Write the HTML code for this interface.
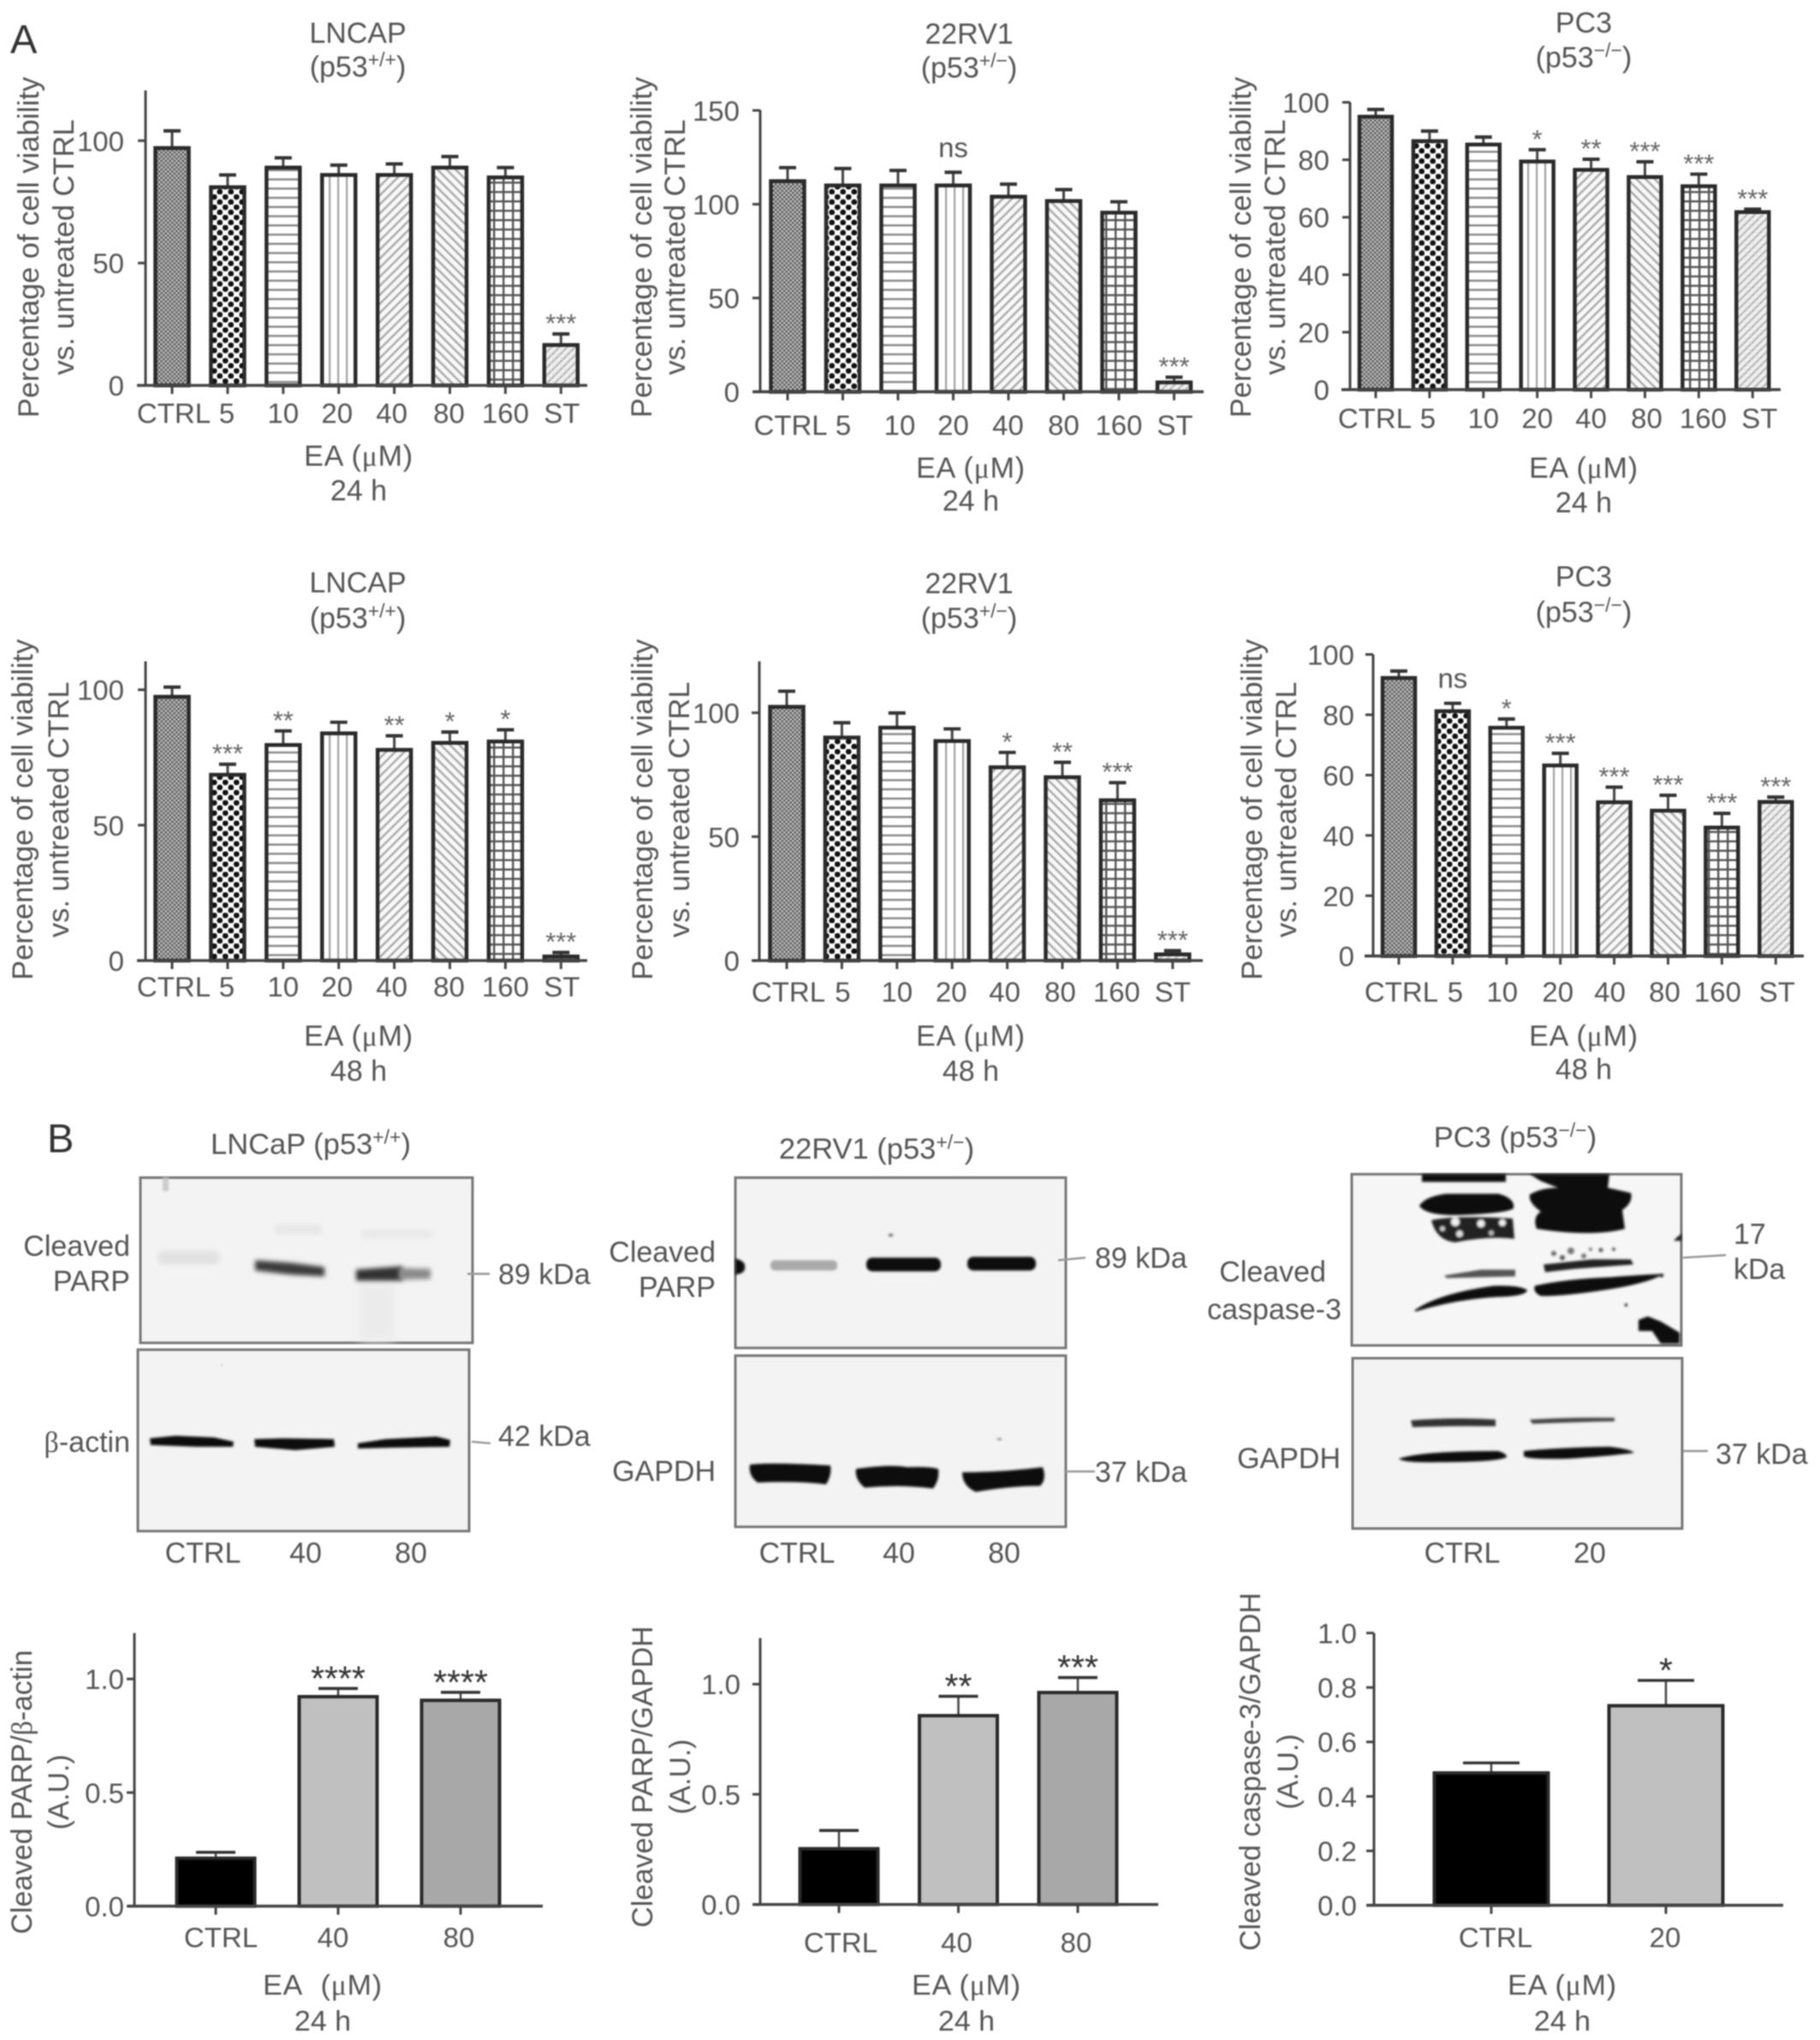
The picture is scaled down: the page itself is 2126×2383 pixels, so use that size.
<!DOCTYPE html>
<html lang="en">
<head>
<meta charset="utf-8">
<title>EA cell viability and western blots</title>
<style>
html,body{margin:0;padding:0;background:#fff;}
svg{display:block;filter:blur(0.7px);}
text{font-family:"Liberation Sans",Arial,sans-serif;fill:#555;font-size:33px;}
.serif{font-family:"Liberation Serif",serif;}
.ytitle{font-size:34.6px;}
.bt{font-size:34px;}
.blt{font-size:34.5px;}
.ea{font-size:34px;letter-spacing:.8px;}
.panel{font-size:47px;fill:#333;}
.sup{font-size:23px;}
.box{fill:#f3f3f3;stroke:#777;stroke-width:3;}
.leader{stroke:#999;stroke-width:2.5;fill:none;}
</style>
</head>
<body>
<svg id="figure" xmlns="http://www.w3.org/2000/svg" width="2126" height="2383" viewBox="0 0 2126 2383">
<defs>
<pattern id="pat-ctrl" width="5" height="5" patternUnits="userSpaceOnUse"><rect width="5" height="5" fill="#c4c4c4"/><rect width="2.5" height="2.5" fill="#5a5a5a"/><rect x="2.5" y="2.5" width="2.5" height="2.5" fill="#5a5a5a"/></pattern>
<pattern id="pat-5" width="13" height="12" patternUnits="userSpaceOnUse"><rect width="13" height="12" fill="#fff"/><circle cx="3.25" cy="3" r="3.4" fill="#111"/><circle cx="9.75" cy="9" r="3.4" fill="#111"/></pattern>
<pattern id="pat-10" width="10" height="10.8" patternUnits="userSpaceOnUse"><rect width="10" height="10.8" fill="#fff"/><rect y="4" width="10" height="2.4" fill="#888"/></pattern>
<pattern id="pat-20" width="10" height="10" patternUnits="userSpaceOnUse"><rect width="10" height="10" fill="#fff"/><rect x="4" width="2.2" height="10" fill="#a2a2a2"/></pattern>
<pattern id="pat-40" width="7.5" height="7.5" patternUnits="userSpaceOnUse" patternTransform="rotate(45)"><rect width="7.5" height="7.5" fill="#f8f8f8"/><rect x="2" width="2.4" height="7.5" fill="#aaa"/></pattern>
<pattern id="pat-80" width="7.5" height="7.5" patternUnits="userSpaceOnUse" patternTransform="rotate(-45)"><rect width="7.5" height="7.5" fill="#f8f8f8"/><rect x="2" width="2.4" height="7.5" fill="#aaa"/></pattern>
<pattern id="pat-160" width="11" height="11" patternUnits="userSpaceOnUse"><rect width="11" height="11" fill="#fff"/><rect x="4" width="2.4" height="11" fill="#555"/><rect y="4" width="11" height="2.4" fill="#555"/></pattern>
<pattern id="pat-st" width="6.5" height="6.5" patternUnits="userSpaceOnUse" patternTransform="rotate(45)"><rect width="6.5" height="6.5" fill="#f0f0f0"/><rect x="1.5" width="2" height="6.5" fill="#b0b0b0"/><rect y="1.5" width="3" height="1.4" fill="#d4d4d4"/></pattern>
<filter id="b1" x="-20%" y="-60%" width="140%" height="220%"><feGaussianBlur stdDeviation="1.3"/></filter>
<filter id="b2" x="-20%" y="-80%" width="140%" height="260%"><feGaussianBlur stdDeviation="2.6"/></filter>
<filter id="b6" x="-30%" y="-100%" width="160%" height="300%"><feGaussianBlur stdDeviation="6"/></filter>
</defs>
<rect width="2126" height="2383" fill="#fff"/>

<text class="panel" x="12" y="62">A</text>
<text class="panel" x="55" y="1346">B</text>

<g id="chart-a1" transform="scale(1 .996)">
<text class="bt" text-anchor="middle" x="418" y="50">LNCAP</text>
<text class="bt" text-anchor="middle" x="418" y="90">(p53<tspan class="sup" dy="-12">+/+</tspan><tspan dy="12">)</tspan></text>
<text class="ea" text-anchor="middle" x="419" y="546">EA (<tspan class="serif">μ</tspan>M)</text>
<text class="bt" text-anchor="middle" x="419" y="587">24 h</text>
<text class="ytitle" text-anchor="middle" transform="translate(45 290) rotate(-90)">Percentage of cell viability</text>
<text class="ytitle" text-anchor="middle" transform="translate(86 290) rotate(-90)">vs. untreated CTRL</text>
</g>

<g id="chart-a2" transform="scale(1 .996)">
<text class="bt" text-anchor="middle" x="1132" y="51">22RV1</text>
<text class="bt" text-anchor="middle" x="1132" y="91">(p53<tspan class="sup" dy="-12">+/−</tspan><tspan dy="12">)</tspan></text>
<text class="ea" text-anchor="middle" x="1134" y="560">EA (<tspan class="serif">μ</tspan>M)</text>
<text class="bt" text-anchor="middle" x="1134" y="599">24 h</text>
<text class="ytitle" text-anchor="middle" transform="translate(761 290) rotate(-90)">Percentage of cell viability</text>
<text class="ytitle" text-anchor="middle" transform="translate(800 290) rotate(-90)">vs. untreated CTRL</text>
</g>

<g id="chart-a3" transform="scale(1 .996)">
<text class="bt" text-anchor="middle" x="1850" y="38">PC3</text>
<text class="bt" text-anchor="middle" x="1850" y="79">(p53<tspan class="sup" dy="-12">−/−</tspan><tspan dy="12">)</tspan></text>
<text class="ea" text-anchor="middle" x="1850" y="560">EA (<tspan class="serif">μ</tspan>M)</text>
<text class="bt" text-anchor="middle" x="1850" y="601">24 h</text>
<text class="ytitle" text-anchor="middle" transform="translate(1461 290) rotate(-90)">Percentage of cell viability</text>
<text class="ytitle" text-anchor="middle" transform="translate(1501 290) rotate(-90)">vs. untreated CTRL</text>
</g>

<g id="chart-a4" transform="translate(0 2.56) scale(1 .996)">
<text class="bt" text-anchor="middle" x="418" y="692">LNCAP</text>
<text class="bt" text-anchor="middle" x="418" y="734">(p53<tspan class="sup" dy="-12">+/+</tspan><tspan dy="12">)</tspan></text>
<text class="ea" text-anchor="middle" x="419" y="1224">EA (<tspan class="serif">μ</tspan>M)</text>
<text class="bt" text-anchor="middle" x="419" y="1265">48 h</text>
<text class="ytitle" text-anchor="middle" transform="translate(38 947) rotate(-90)">Percentage of cell viability</text>
<text class="ytitle" text-anchor="middle" transform="translate(80 947) rotate(-90)">vs. untreated CTRL</text>
</g>

<g id="chart-a5" transform="translate(0 2.56) scale(1 .996)">
<text class="bt" text-anchor="middle" x="1132" y="693">22RV1</text>
<text class="bt" text-anchor="middle" x="1132" y="734">(p53<tspan class="sup" dy="-12">+/−</tspan><tspan dy="12">)</tspan></text>
<text class="ea" text-anchor="middle" x="1134" y="1224">EA (<tspan class="serif">μ</tspan>M)</text>
<text class="bt" text-anchor="middle" x="1134" y="1265">48 h</text>
<text class="ytitle" text-anchor="middle" transform="translate(762 947) rotate(-90)">Percentage of cell viability</text>
<text class="ytitle" text-anchor="middle" transform="translate(805 947) rotate(-90)">vs. untreated CTRL</text>
</g>

<g id="chart-a6" transform="translate(0 2.56) scale(1 .996)">
<text class="bt" text-anchor="middle" x="1850" y="685">PC3</text>
<text class="bt" text-anchor="middle" x="1850" y="727">(p53<tspan class="sup" dy="-12">−/−</tspan><tspan dy="12">)</tspan></text>
<text class="ea" text-anchor="middle" x="1850" y="1224">EA (<tspan class="serif">μ</tspan>M)</text>
<text class="bt" text-anchor="middle" x="1850" y="1263">48 h</text>
<text class="ytitle" text-anchor="middle" transform="translate(1474 947) rotate(-90)">Percentage of cell viability</text>
<text class="ytitle" text-anchor="middle" transform="translate(1514 947) rotate(-90)">vs. untreated CTRL</text>
</g>

<g transform="translate(0 6.5) scale(1 .995)">
<!-- Western blot 1 -->
<g>
<text class="blt" text-anchor="middle" x="363" y="1348">LNCaP (p53<tspan class="sup" dy="-12">+/+</tspan><tspan dy="12">)</tspan></text>
<rect class="box" x="164" y="1376" width="388" height="194"/>
<g>
<rect x="190" y="1376" width="7" height="16" fill="#ccc" filter="url(#b1)"/>
<rect x="184" y="1462" width="73" height="16" rx="6" fill="#e2e2e2" filter="url(#b2)"/>
<rect x="321" y="1432" width="55" height="10" fill="#e6e6e6" filter="url(#b2)"/>
<rect x="422" y="1437" width="83" height="10" fill="#e9e9e9" filter="url(#b2)"/>
<rect x="420" y="1500" width="40" height="68" fill="#ebebeb" filter="url(#b6)"/>
<path d="M298 1473 L340 1476 L379 1481 L379 1492 L340 1490 L298 1485 Z" fill="#3a3a3a" filter="url(#b2)"/>
<path d="M416 1484 L470 1480 L470 1497 L416 1497 Z" fill="#333" filter="url(#b2)"/>
<path d="M466 1482 L503 1483 L503 1495 L466 1496 Z" fill="#8a8a8a" filter="url(#b2)"/>
</g>
<rect class="box" x="161" y="1578" width="387" height="213"/>
<g fill="#0c0c0c" filter="url(#b1)">
<path d="M175 1682 L205 1679 L250 1681 L273 1686 L272 1692 L230 1692 L176 1690 Z"/>
<path d="M297 1683 L330 1682 L390 1683 L391 1692 L345 1696 L298 1692 Z"/>
<path d="M418 1688 L450 1683 L510 1680 L526 1684 L525 1692 L460 1693 L418 1694 Z"/>
</g>
<rect x="258" y="1595" width="2" height="2" fill="#ccc"/>
<text class="bt" text-anchor="end" x="152" y="1468">Cleaved</text>
<text class="bt" text-anchor="end" x="152" y="1509">PARP</text>
<text class="bt" text-anchor="end" x="152" y="1698"><tspan class="serif">β</tspan>-actin</text>
<line class="leader" x1="546" y1="1489" x2="572" y2="1489"/>
<text class="bt" x="582" y="1501">89 kDa</text>
<line class="leader" x1="551" y1="1686" x2="573" y2="1688"/>
<text class="bt" x="582" y="1691">42 kDa</text>
<text class="bt" text-anchor="middle" x="237" y="1828">CTRL</text>
<text class="bt" text-anchor="middle" x="357" y="1828">40</text>
<text class="bt" text-anchor="middle" x="480" y="1828">80</text>
</g>

<!-- Western blot 2 -->
<g>
<text class="blt" text-anchor="middle" x="1024" y="1354">22RV1 (p53<tspan class="sup" dy="-12">+/−</tspan><tspan dy="12">)</tspan></text>
<rect class="box" x="859" y="1376" width="386" height="200"/>
<g filter="url(#b1)">
<path d="M859 1471 Q871 1474 870 1481 Q871 1488 859 1490 Z" fill="#111"/>
<rect x="900" y="1473" width="78" height="12" rx="5" fill="#aaa"/>
<rect x="1012" y="1470" width="87" height="16" rx="7" fill="#0d0d0d"/>
<rect x="1130" y="1469" width="80" height="16" rx="7" fill="#0d0d0d"/>
<rect x="1038" y="1442" width="5" height="3" fill="#666"/>
</g>
<rect class="box" x="859" y="1585" width="386" height="201"/>
<g fill="#0c0c0c" filter="url(#b1)">
<path d="M876 1713 Q900 1710 970 1714 Q972 1725 965 1736 Q930 1732 885 1734 Q874 1726 876 1713 Z"/>
<path d="M1000 1718 Q1040 1712 1060 1716 Q1085 1715 1096 1718 Q1098 1730 1090 1741 Q1050 1736 1010 1740 Q998 1730 1000 1718 Z"/>
<path d="M1124 1722 Q1170 1722 1218 1716 Q1223 1730 1215 1738 Q1180 1738 1140 1745 Q1124 1738 1124 1722 Z"/>
<rect x="1165" y="1682" width="5" height="2" fill="#777"/>
</g>
<text class="bt" text-anchor="end" x="836" y="1475">Cleaved</text>
<text class="bt" text-anchor="end" x="836" y="1516">PARP</text>
<text class="bt" text-anchor="end" x="836" y="1732">GAPDH</text>
<line class="leader" x1="1236" y1="1473" x2="1268" y2="1470"/>
<text class="bt" x="1279" y="1482">89 kDa</text>
<line class="leader" x1="1243" y1="1721" x2="1279" y2="1721"/>
<text class="bt" x="1279" y="1733">37 kDa</text>
<text class="bt" text-anchor="middle" x="931" y="1828">CTRL</text>
<text class="bt" text-anchor="middle" x="1050" y="1828">40</text>
<text class="bt" text-anchor="middle" x="1173" y="1828">80</text>
</g>

<!-- Western blot 3 -->
<g>
<text class="blt" text-anchor="middle" x="1770" y="1340">PC3 (p53<tspan class="sup" dy="-12">−/−</tspan><tspan dy="12">)</tspan></text>
<rect class="box" x="1579" y="1372" width="385" height="201" style="fill:#f6f6f6"/>
<g fill="#070707" filter="url(#b1)">
<rect x="1661" y="1372" width="98" height="9"/>
<path d="M1658 1409 Q1665 1398 1690 1395 L1750 1395 Q1770 1400 1768 1412 Q1760 1418 1700 1420 Q1665 1420 1658 1409 Z"/>
<path d="M1672 1426 Q1700 1420 1767 1424 L1769 1448 Q1740 1444 1700 1452 Q1678 1450 1672 1426 Z" fill="#222"/>
<circle cx="1700" cy="1428" r="5" fill="#f0f0f0"/><circle cx="1730" cy="1430" r="4.5" fill="#eee"/><circle cx="1755" cy="1429" r="4" fill="#eee"/><circle cx="1705" cy="1442" r="4" fill="#ddd"/><circle cx="1685" cy="1436" r="3" fill="#ccc"/><circle cx="1742" cy="1441" r="3" fill="#bbb"/>
<path d="M1787 1372 L1880 1372 L1878 1388 L1905 1394 Q1908 1405 1895 1414 L1898 1436 Q1860 1446 1795 1436 Q1790 1422 1800 1416 Q1785 1405 1787 1396 Q1800 1388 1820 1388 L1800 1380 Z"/>
<path d="M1687 1491 L1730 1484 L1770 1484 L1770 1492 L1690 1494 Z" fill="#555"/>
<path d="M1803 1478 L1860 1472 L1905 1472 L1908 1478 L1840 1483 L1805 1487 Z" fill="#222"/>
<circle cx="1815" cy="1465" r="3" fill="#666"/><circle cx="1835" cy="1462" r="4" fill="#777"/><circle cx="1825" cy="1470" r="3" fill="#555"/><circle cx="1850" cy="1468" r="3" fill="#777"/><circle cx="1870" cy="1461" r="2.5" fill="#555"/><circle cx="1885" cy="1460" r="2" fill="#555"/><circle cx="1858" cy="1460" r="2" fill="#777"/>
<path d="M1652 1532 Q1680 1512 1745 1503 Q1775 1502 1784 1508 Q1783 1515 1750 1516 Q1700 1519 1654 1533 Z"/>
<path d="M1793 1503 Q1830 1495 1880 1493 Q1920 1490 1944 1489 Q1925 1500 1880 1507 Q1830 1515 1800 1515 Q1790 1510 1793 1503 Z"/>
<circle cx="1941" cy="1491" r="2" />
<path d="M1914 1543 L1925 1539 L1940 1545 L1962 1558 L1962 1571 L1940 1571 L1930 1556 L1914 1556 Z"/>
<path d="M1955 1450 L1964 1442 L1964 1450 Z"/>
<rect x="1898" y="1524" width="3" height="3"/>
</g>
<rect class="box" x="1580" y="1588" width="385" height="200"/>
<g fill="#0c0c0c" filter="url(#b1)">
<path d="M1648 1661 Q1700 1657 1747 1660 L1747 1668 Q1700 1667 1650 1669 Z" fill="#333"/>
<path d="M1787 1660 Q1840 1657 1886 1658 L1886 1662 Q1840 1663 1790 1665 Z" fill="#444"/>
<path d="M1634 1706 Q1660 1697 1750 1697 Q1760 1700 1760 1704 Q1750 1710 1680 1710 Q1640 1711 1634 1706 Z"/>
<path d="M1780 1697 Q1820 1693 1880 1692 Q1905 1695 1909 1699 Q1880 1703 1830 1706 Q1785 1707 1780 1703 Z"/>
</g>
<text class="bt" text-anchor="end" x="1549" y="1498">Cleaved</text>
<text class="bt" text-anchor="end" x="1567" y="1542">caspase-3</text>
<text class="bt" text-anchor="end" x="1566" y="1717">GAPDH</text>
<line class="leader" x1="1966" y1="1470" x2="2016" y2="1467"/>
<text class="bt" x="2025" y="1454">17</text>
<text class="bt" x="2025" y="1495">kDa</text>
<line class="leader" x1="1966" y1="1697" x2="1995" y2="1697"/>
<text class="bt" x="2004" y="1712">37 kDa</text>
<text class="bt" text-anchor="middle" x="1708" y="1828">CTRL</text>
<text class="bt" text-anchor="middle" x="1857" y="1828">20</text>
</g>
</g>

<g id="chart-b1" transform="translate(0 11.04) scale(1 .994)">
<text class="ea" text-anchor="middle" x="377" y="2333">EA&#160;&#160;(<tspan class="serif">μ</tspan>M)</text>
<text class="bt" text-anchor="middle" x="377" y="2375">24 h</text>
<text class="bt" text-anchor="middle" transform="translate(37 2095) rotate(-90)">Cleaved PARP/<tspan class="serif">β</tspan>-actin</text>
<text class="bt" text-anchor="middle" transform="translate(80 2095) rotate(-90)">(A.U.)</text>
</g>
<g id="chart-b2" transform="translate(0 11.04) scale(1 .994)">
<text class="ea" text-anchor="middle" x="1129" y="2333">EA (<tspan class="serif">μ</tspan>M)</text>
<text class="bt" text-anchor="middle" x="1129" y="2375">24 h</text>
<text class="bt" text-anchor="middle" transform="translate(762 2077) rotate(-90)">Cleaved PARP/GAPDH</text>
<text class="bt" text-anchor="middle" transform="translate(806 2077) rotate(-90)">(A.U.)</text>
</g>
<g id="chart-b3" transform="translate(0 11.04) scale(1 .994)">
<text class="ea" text-anchor="middle" x="1825" y="2333">EA (<tspan class="serif">μ</tspan>M)</text>
<text class="bt" text-anchor="middle" x="1825" y="2375">24 h</text>
<text class="bt" text-anchor="middle" transform="translate(1472 2071) rotate(-90)">Cleaved caspase-3/GAPDH</text>
<text class="bt" text-anchor="middle" transform="translate(1516 2071) rotate(-90)">(A.U.)</text>
</g>
</svg>

<script>
// ---- Chart data ----
const doseCategories = ['CTRL','5','10','20','40','80','160','ST'];

const a1Ticks = [0,50,100];
const a1TickLabels = ['0','50','100'];
const a1Values = [97,81,89,86,86,89,85,16.5];
const a1ErrorTops = [104,86,93,90,90.5,93.5,89,21];
const a1Sig = ['','','','','','','','***'];

const a2Ticks = [0,50,100,150];
const a2TickLabels = ['0','50','100','150'];
const a2Values = [112.3,110,110,110,104,101.7,95.5,5];
const a2ErrorTops = [119.5,119,118,117,110.7,107.8,101.3,7.8];
const a2Sig = ['','','','ns','','','','***'];

const a3Ticks = [0,20,40,60,80,100];
const a3TickLabels = ['0','20','40','60','80','100'];
const a3Values = [95,86.5,85.3,79.4,76.5,74,70.8,61.8];
const a3ErrorTops = [97.5,90,87.9,83.5,80.2,79.3,75,62.8];
const a3Sig = ['','','','*','**','***','***','***'];

const a4Ticks = [0,50,100];
const a4TickLabels = ['0','50','100'];
const a4Values = [97.4,68.6,79.6,83.9,77.8,80.4,80.9,1.5];
const a4ErrorTops = [101,72.5,84.8,88,83,84.4,85.2,3];
const a4Sig = ['','***','**','','**','*','*','***'];

const a5Ticks = [0,50,100];
const a5TickLabels = ['0','50','100'];
const a5Values = [102.4,90,94,88.6,78,74,64.7,2.5];
const a5ErrorTops = [108.7,96,99.9,93.5,84,80,71.8,4];
const a5Sig = ['','','','','*','**','***','***'];

const a6Ticks = [0,20,40,60,80,100];
const a6TickLabels = ['0','20','40','60','80','100'];
const a6Values = [92.2,81.2,75.7,63.2,51,48.2,42.6,51.1];
const a6ErrorTops = [94.5,83.8,78.6,67.2,56,53.3,47.3,52.7];
const a6Sig = ['','ns','*','***','***','***','***','***'];

const b1Categories = ['CTRL','40','80'];
const b1Ticks = [0,0.5,1];
const b1TickLabels = ['0.0','0.5','1.0'];
const b1Values = [0.211,0.922,0.906];
const b1ErrorTops = [0.237,0.958,0.941];
const b1Sig = ['','****','****'];

const b2Categories = ['CTRL','40','80'];
const b2Ticks = [0,0.5,1];
const b2TickLabels = ['0.0','0.5','1.0'];
const b2Values = [0.253,0.857,0.962];
const b2ErrorTops = [0.336,0.945,1.03];
const b2Sig = ['','**','***'];

const b3Categories = ['CTRL','20'];
const b3Ticks = [0,0.2,0.4,0.6,0.8,1];
const b3TickLabels = ['0.0','0.2','0.4','0.6','0.8','1.0'];
const b3Values = [0.486,0.733];
const b3ErrorTops = [0.523,0.826];
const b3Sig = ['','*'];

// ---- Styling and layout (not data) ----
const patternFills = ['url(#pat-ctrl)','url(#pat-5)','url(#pat-10)','url(#pat-20)','url(#pat-40)','url(#pat-80)','url(#pat-160)','url(#pat-st)'];
const greyFills = ['#000','#c0c0c0','#a8a8a8'];
const NS = 'http://www.w3.org/2000/svg';

function mk(parent, tag, attrs, txt) {
  const n = document.createElementNS(NS, tag);
  for (const k in attrs) n.setAttribute(k, attrs[k]);
  if (txt !== undefined) n.textContent = txt;
  parent.appendChild(n);
  return n;
}

function drawChart(id, L, categories, ticks, tickLabels, values, errorTops, sig, fills) {
  const g = document.getElementById(id);
  const yScale = v => L.base - v * L.unit;
  const xScale = i => L.first + i * L.step;
  const axisY = mk(g, 'line', {x1:L.axis, x2:L.axis, y1:L.top, y2:L.base+1, stroke:'#444', 'stroke-width':3});
  
  
  ticks.forEach((t, i) => {
    const tk = mk(g, 'line', {x1:L.axis-9, x2:L.axis, y1:yScale(t), y2:yScale(t), stroke:'#444', 'stroke-width':3});
    
    
    const lb = mk(g, 'text', {'text-anchor':'end', x:L.tickEnd, y:yScale(t) + 12}, tickLabels[i]);
    
    
  });
  categories.forEach((c, i) => {
    const cx = xScale(i);
    const stem = mk(g, 'line', {x1:cx, x2:cx, y1:yScale(errorTops[i]), y2:yScale(values[i]), stroke:'#444', 'stroke-width':L.stem});
    
    
    const cap = mk(g, 'line', {x1:cx-L.cap/2, x2:cx+L.cap/2, y1:yScale(errorTops[i]), y2:yScale(errorTops[i]), stroke:'#333', 'stroke-width':L.capW});
    
    
    const bar = mk(g, 'rect', {x:cx-L.bar/2, width:L.bar, y:yScale(values[i]), height:L.base-yScale(values[i]), fill:fills[i], stroke:'#2a2a2a', 'stroke-width':L.barStroke});
    
    
    const tick = mk(g, 'line', {x1:cx, x2:cx, y1:L.base, y2:L.base+10, stroke:'#444', 'stroke-width':3});
    
    
    const lab = mk(g, 'text', {'text-anchor':'middle', x:cx + L.nudge[i], y:L.labelY}, c);
    
    
    if (sig[i]) {
      const isNs = sig[i] === 'ns';
      const sy = yScale(errorTops[i]);
      const s = mk(g, 'text', {
        'text-anchor':'middle',
        style: isNs ? 'font-size:33px' : 'font-size:' + L.starSize + 'px;fill:' + L.starFill,
        x:cx,
        y:isNs ? sy - 18 : sy - L.starGap
      }, sig[i]);
      
      
    }
  });
  const axisX = mk(g, 'line', {x1:L.xStart, x2:L.xEnd, y1:L.base, y2:L.base, stroke:'#444', 'stroke-width':3.5});
  
  
}

const aStyle = {bar:39, cap:20, capW:4, stem:3, barStroke:4.5, starSize:31, starFill:'#666', starGap:2};
const bStyle = {bar:91, cap:46, capW:3.5, stem:2.5, barStroke:4, starSize:41, starFill:'#333', starGap:-2};

drawChart('chart-a1', Object.assign({}, aStyle, {axis:170, top:106, base:452, unit:2.87, first:201, step:64.9, tickEnd:145, labelY:496, xStart:160, xEnd:686, nudge:[2,-1,0,-2,-3,-1,0,1]}), doseCategories, a1Ticks, a1TickLabels, a1Values, a1ErrorTops, a1Sig, patternFills);
drawChart('chart-a2', Object.assign({}, aStyle, {axis:888, top:129, base:459.5, unit:2.2, first:920, step:64.5, tickEnd:864, labelY:510, xStart:880, xEnd:1406, nudge:[3.6,.6,2,0,-.5,0,0,1]}), doseCategories, a2Ticks, a2TickLabels, a2Values, a2ErrorTops, a2Sig, patternFills);
drawChart('chart-a3', Object.assign({}, aStyle, {axis:1577, top:120, base:457, unit:3.37, first:1607, step:62.9, tickEnd:1553, labelY:502, xStart:1567, xEnd:2080, bar:38, nudge:[-1,-2,0,0,0,2,5,8]}), doseCategories, a3Ticks, a3TickLabels, a3Values, a3ErrorTops, a3Sig, patternFills);
drawChart('chart-a4', Object.assign({}, aStyle, {axis:170, top:773, base:1124, unit:3.176, first:201, step:64.9, tickEnd:145, labelY:1166, xStart:160, xEnd:686, nudge:[2,-1,0,-2,-3,-1,0,1]}), doseCategories, a4Ticks, a4TickLabels, a4Values, a4ErrorTops, a4Sig, patternFills);
drawChart('chart-a5', Object.assign({}, aStyle, {axis:887, top:773, base:1124, unit:2.906, first:919, step:64.4, tickEnd:864, labelY:1172, xStart:879, xEnd:1405, nudge:[2,1,0,-1,-3,-2.5,-1,0]}), doseCategories, a5Ticks, a5TickLabels, a5Values, a5ErrorTops, a5Sig, patternFills);
drawChart('chart-a6', Object.assign({}, aStyle, {axis:1604, top:765, base:1118.7, unit:3.537, first:1634, step:62.9, tickEnd:1582, labelY:1172, xStart:1594, xEnd:2107, bar:38, nudge:[3,3,-5,-3,-5,-4,-5,1.5]}), doseCategories, a6Ticks, a6TickLabels, a6Values, a6ErrorTops, a6Sig, patternFills);
drawChart('chart-b1', Object.assign({}, bStyle, {axis:157, top:1908, base:2229, unit:267, first:252, step:143, tickEnd:145, labelY:2277, xStart:149, xEnd:634, nudge:[6,-6,-2]}), b1Categories, b1Ticks, b1TickLabels, b1Values, b1ErrorTops, b1Sig, greyFills);
drawChart('chart-b2', Object.assign({}, bStyle, {axis:888, top:1914, base:2227, unit:258.9, first:980, step:139.5, tickEnd:865, labelY:2283, xStart:880, xEnd:1353, nudge:[2,-2,-2]}), b2Categories, b2Ticks, b2TickLabels, b2Values, b2ErrorTops, b2Sig, greyFills);
drawChart('chart-b3', Object.assign({}, bStyle, {axis:1605, top:1908, base:2228, unit:320, first:1742, step:204, tickEnd:1585, labelY:2277, xStart:1597, xEnd:2083, bar:133, cap:66, nudge:[5,-1]}), b3Categories, b3Ticks, b3TickLabels, b3Values, b3ErrorTops, b3Sig, greyFills);
</script>
</body>
</html>
